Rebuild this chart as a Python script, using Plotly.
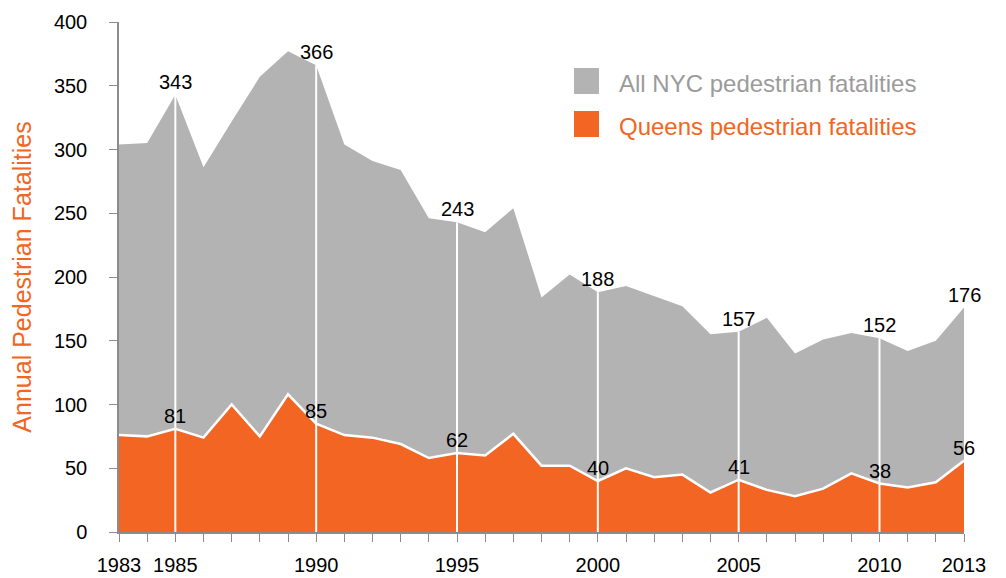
import plotly.graph_objects as go

# Jahre und Werte
years = list(range(1983, 2014))
nyc = [304, 305, 343, 286, 322, 357, 377, 366, 304, 291, 284, 246, 243, 235, 254,
       184, 202, 188, 193, 185, 177, 155, 157, 168, 140, 151, 156, 152, 142, 150, 176]
queens = [76, 75, 81, 74, 100, 75, 108, 85, 76, 74, 69, 58, 62, 60, 77,
          52, 52, 40, 50, 43, 45, 31, 41, 33, 28, 34, 46, 38, 35, 39, 56]
label_years = [1985, 1990, 1995, 2000, 2005, 2010, 2013]
tick_labels = {1983: '1983', 1985: '1985', 1990: '1990', 1995: '1995',
               2000: '2000', 2005: '2005', 2010: '2010', 2013: '2013'}

GRAY = '#b4b3b4'
ORANGE = '#f26522'
FONT = 'Liberation Sans, Arial, sans-serif'

fig = go.Figure()

fig.add_trace(go.Scatter(x=years, y=nyc, mode='lines', fill='tozeroy',
                         fillcolor=GRAY, line=dict(width=0, color=GRAY),
                         showlegend=False, hoverinfo='skip'))
fig.add_trace(go.Scatter(x=years, y=queens, mode='lines', fill='tozeroy',
                         fillcolor=ORANGE, line=dict(width=2.5, color='white'),
                         showlegend=False, hoverinfo='skip'))

# weisse senkrechte Linien alle 5 Jahre
vx, vy = [], []
for yr in label_years[:-1]:
    v = nyc[years.index(yr)]
    vx += [yr, yr, None]
    vy += [0, v, None]
fig.add_trace(go.Scatter(x=vx, y=vy, mode='lines', line=dict(color='white', width=2),
                         showlegend=False, hoverinfo='skip'))

# Beschriftungen
for yr in label_years:
    i = years.index(yr)
    for val in (nyc[i], queens[i]):
        fig.add_annotation(x=yr, y=val, text=str(val), showarrow=False,
                           yanchor='bottom', xanchor='center', yshift=0,
                           font=dict(family=FONT, size=20, color='black'))

# Legende (Plotbereich: x 119..964, y 22..532 im Bild)
def px_x(p):
    return (p - 119) / 845


def px_y(p):
    return (532 - p) / 510


fig.add_shape(type='rect', xref='paper', yref='paper',
              x0=px_x(574), x1=px_x(599), y0=px_y(94), y1=px_y(68),
              fillcolor=GRAY, line=dict(width=0))
fig.add_shape(type='rect', xref='paper', yref='paper',
              x0=px_x(574), x1=px_x(599), y0=px_y(137), y1=px_y(111),
              fillcolor=ORANGE, line=dict(width=0))
fig.add_annotation(xref='paper', yref='paper', x=px_x(617), y=px_y(83),
                   text='All NYC pedestrian fatalities', showarrow=False,
                   xanchor='left', yanchor='middle',
                   font=dict(family=FONT, size=24, color='#9b9b9b'))
fig.add_annotation(xref='paper', yref='paper', x=px_x(617), y=px_y(126),
                   text='Queens pedestrian fatalities', showarrow=False,
                   xanchor='left', yanchor='middle',
                   font=dict(family=FONT, size=24, color=ORANGE))

# die Seite hat 8px Rand, daher kleiner und verschoben
fig.update_layout(
    width=998, height=570,
    margin=dict(l=111, r=42, t=14, b=46),
    paper_bgcolor='white', plot_bgcolor='white',
    font=dict(family=FONT, color='black'),
)
fig.update_xaxes(
    range=[1983, 2013], showgrid=False, zeroline=False, automargin=False,
    showline=True, linecolor='#8c8c8c', linewidth=1.5,
    ticks='outside', ticklen=8, tickcolor='#8c8c8c',
    tickvals=years, ticktext=[tick_labels.get(y, '') for y in years],
    tickfont=dict(size=20), ticklabelstandoff=6,
)
fig.update_yaxes(
    range=[0, 400], showgrid=False, zeroline=False, automargin=False,
    showline=True, linecolor='#8c8c8c', linewidth=1.5,
    ticks='outside', ticklen=8, tickcolor='#8c8c8c',
    tickvals=list(range(0, 401, 50)), tickfont=dict(size=20), ticklabelstandoff=18,
    title=dict(text='Annual Pedestrian Fatalities', standoff=20,
               font=dict(size=25, color=ORANGE)),
)

fig.write_html('out.html')
